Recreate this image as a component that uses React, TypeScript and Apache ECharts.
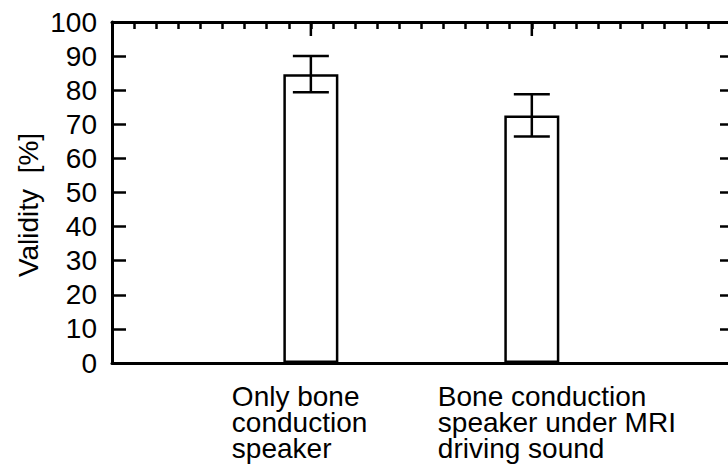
import React, { useEffect, useRef } from "react";
import * as echarts from "echarts";

const categories = [
  "Only bone\nconduction\nspeaker",
  "Bone conduction\nspeaker under MRI\ndriving sound",
];
const positions = [1, 2];
const values = [84.7, 72.6];
const errLow = [79.4, 66.4];
const errHigh = [90.0, 78.8];
const yTicks = [0, 10, 20, 30, 40, 50, 60, 70, 80, 90, 100];
const labelOffsets = [-79, -94];

const FONT = '"Liberation Sans", Arial, Helvetica, sans-serif';

export default function App() {
  const ref = useRef<HTMLDivElement>(null);
  useEffect(() => {
    if (!ref.current) return;
    const chart = echarts.init(ref.current, null, { renderer: "svg" });
    const X_MIN = 0.1;
    const X_MAX = 2.915;
    const Y_MAX = yTicks[yTicks.length - 1];
    const axisLine = { show: true, onZero: false, lineStyle: { color: "#000", width: 3 } };
    const tickStyle = { color: "#000", width: 2.5 };
    const option: any = {
      animation: false,
      backgroundColor: "#fff",
      grid: { left: 112, top: 22, width: 622, height: 341, containLabel: false },
      xAxis: [
        {
          type: "value",
          position: "bottom",
          min: X_MIN,
          max: X_MAX,
          axisLine,
          axisTick: { show: false },
          axisLabel: { show: false },
          splitLine: { show: false },
        },
        {
          type: "value",
          position: "top",
          min: X_MIN,
          max: X_MAX,
          interval: 0.1,
          axisLine,
          axisTick: { show: true, inside: true, length: 7, lineStyle: tickStyle },
          axisLabel: { show: false },
          splitLine: { show: false },
        },
      ],
      yAxis: [
        {
          type: "value",
          position: "left",
          min: yTicks[0],
          max: Y_MAX,
          interval: 10,
          axisLine,
          axisTick: { show: true, inside: true, length: 14, lineStyle: tickStyle },
          axisLabel: { color: "#000", fontSize: 28, fontFamily: FONT, margin: 15 },
          splitLine: { show: false },
        },
        {
          type: "value",
          position: "right",
          min: yTicks[0],
          max: Y_MAX,
          interval: 10,
          axisLine,
          axisTick: { show: true, inside: true, length: 14, lineStyle: tickStyle },
          axisLabel: { show: false },
          splitLine: { show: false },
        },
      ],
      series: [
        {
          type: "bar",
          xAxisIndex: 0,
          yAxisIndex: 0,
          barWidth: 55,
          data: positions.map((p, i) => [p, values[i]]),
          itemStyle: { color: "#fff", borderColor: "#000", borderWidth: 2.5 },
          z: 2,
        },
        {
          type: "custom",
          xAxisIndex: 0,
          yAxisIndex: 0,
          z: 5,
          clip: false,
          data: positions.map((p, i) => [p, errLow[i], errHigh[i]]),
          renderItem: (params: any, api: any) => {
            const x = api.value(0);
            const lo = api.coord([x, api.value(1)]);
            const hi = api.coord([x, api.value(2)]);
            const top = api.coord([x, Y_MAX]);
            const hw = 18;
            const style = { stroke: "#000", lineWidth: 2.5, fill: "none" };
            return {
              type: "group",
              children: [
                { type: "line", shape: { x1: lo[0], y1: lo[1], x2: hi[0], y2: hi[1] }, style },
                { type: "line", shape: { x1: lo[0] - hw, y1: lo[1], x2: lo[0] + hw, y2: lo[1] }, style },
                { type: "line", shape: { x1: hi[0] - hw, y1: hi[1], x2: hi[0] + hw, y2: hi[1] }, style },
                { type: "line", shape: { x1: top[0], y1: top[1], x2: top[0], y2: top[1] + 14 }, style },
              ],
            };
          },
        },
      ],
    };
    chart.setOption(option);
    const texts: any[] = categories.map((c, i) => {
      const px = chart.convertToPixel({ xAxisIndex: 0 }, positions[i]) as number;
      const py = chart.convertToPixel({ yAxisIndex: 0 }, 0) as number;
      return {
        type: "text",
        x: px + labelOffsets[i],
        y: py + 20,
        style: {
          text: c,
          font: `28px ${FONT}`,
          fill: "#000",
          lineHeight: 26,
          align: "left",
          verticalAlign: "top",
        },
      };
    });
    texts.push({
      type: "text",
      x: 28,
      y: 205,
      rotation: Math.PI / 2,
      style: {
        text: "Validity  [%]",
        font: `28px ${FONT}`,
        fill: "#000",
        align: "center",
        verticalAlign: "middle",
      },
    });
    chart.setOption({ graphic: texts });
    return () => chart.dispose();
  }, []);
  return (
    <div
      style={{
        position: "fixed",
        left: 0,
        top: 0,
        width: 728,
        height: 469,
        overflow: "hidden",
        background: "#fff",
      }}
    >
      <div ref={ref} style={{ width: 800, height: 469, flexShrink: 0 }} />
    </div>
  );
}
